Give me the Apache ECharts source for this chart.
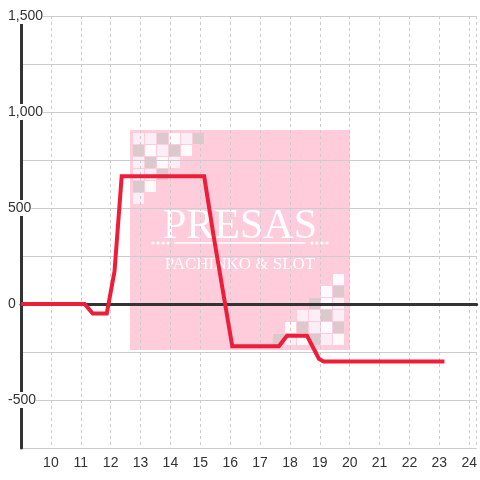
<!DOCTYPE html>
<html>
<head>
<meta charset="utf-8">
<script src="https://cdn.jsdelivr.net/npm/echarts@6/dist/echarts.min.js"></script>
<style>
  html, body { margin: 0; padding: 0; background: #fff; }
  #chart { width: 480px; height: 480px; }
</style>
</head>
<body>
<div id="chart"></div>
<script>
// hour of day -> running balance
const hours = [9, 11.13, 11.4, 11.87, 12.13, 12.37, 15.13, 15.45, 16.07, 17.63, 17.9, 18.57, 18.97, 19.13, 23.17]
const balance = [0, 0, -50, -50, 170, 665, 665, 350, -220, -220, -165, -165, -285, -300, -300]

const xMin = 9
const xMax = 24.25
const yMin = -750
const yMax = 1500

// watermark checker pattern (W white, L light, G grey)
const checkTopLeft = ['LLGWLG', 'GWLGW.', 'LGWL..', 'LLG...', 'GW....', 'L.....']
const checkBottomRight = ['.....W', '....WG', '...GWL', '..LLGL', '.WGLWG', 'GLWGLW']

const chartEl = document.getElementById('chart')
const chart = echarts.init(chartEl)

const squareColors = { W: 'rgba(255,255,255,0.9)', L: '#fbeef6', G: '#dcc9cd' }

function checker(pattern, x0, y0) {
  const out = []
  pattern.forEach((row, r) => {
    row.split('').forEach((c, k) => {
      if (c === '.') return
      out.push({
        type: 'rect', z: -10, silent: true,
        shape: { x: x0 + k * 12, y: y0 + r * 12, width: 11, height: 11 },
        style: { fill: squareColors[c] }
      })
    })
  })
  return out
}

function dots(xs, y) {
  return xs.map(x => ({
    type: 'circle', z: -10, silent: true,
    shape: { cx: x, cy: y, r: 1.6 },
    style: { fill: '#fff' }
  }))
}

const watermark = [
  { type: 'rect', z: -11, silent: true, shape: { x: 130, y: 130, width: 220, height: 220 }, style: { fill: '#ffccdb' } },
  ...checker(checkTopLeft, 133, 133),
  ...checker(checkBottomRight, 273, 274),
  {
    type: 'text', z: -10, silent: true,
    style: { text: 'PRESAS', x: 240, y: 227, align: 'center', verticalAlign: 'middle', font: '42px "Liberation Serif"', fill: 'rgba(255,255,255,0.95)' }
  },
  { type: 'line', z: -10, silent: true, shape: { x1: 174, y1: 243, x2: 306, y2: 243 }, style: { stroke: '#fff', lineWidth: 1.5 } },
  ...dots([153, 158, 163, 168, 312, 317, 322, 327], 243),
  {
    type: 'text', z: -10, silent: true,
    style: { text: 'PACHINKO & SLOT', x: 240, y: 265, align: 'center', verticalAlign: 'middle', font: '17px "Liberation Serif"', fill: 'rgba(255,255,255,0.95)' }
  }
]

const option = {
  backgroundColor: '#fff',
  animation: false,
  graphic: watermark,
  grid: { left: 21, right: 0, top: 16, bottom: 32, containLabel: false },
  xAxis: [
    {
      type: 'value',
      min: xMin,
      max: xMax,
      interval: 1,
      axisLine: { show: false, onZero: false },
      axisTick: { show: false },
      axisLabel: {
        margin: 8,
        color: '#333',
        fontSize: 14,
        fontFamily: 'Liberation Sans',
        formatter: v => (Number.isInteger(v) && v > xMin) ? String(v) : ''
      },
      splitLine: { show: true, lineStyle: { color: '#ccc', width: 1, type: [3, 3] } }
    },
    {
      // zero line
      type: 'value',
      min: xMin,
      max: xMax,
      axisLine: { show: true, onZero: true, lineStyle: { color: '#333', width: 3 } },
      axisTick: { show: false },
      axisLabel: { show: false },
      splitLine: { show: false }
    }
  ],
  yAxis: {
    type: 'value',
    min: yMin,
    max: yMax,
    interval: 250,
    axisLine: { show: true, onZero: false, lineStyle: { color: '#333', width: 3 } },
    axisTick: { show: false },
    axisLabel: {
      align: 'left',
      margin: 13,
      color: '#333',
      fontSize: 14,
      fontFamily: 'Liberation Sans',
      backgroundColor: '#fff',
      padding: [1, 0],
      formatter: v => (v % 500 === 0) ? v.toLocaleString('en-US') : ''
    },
    splitLine: { show: true, lineStyle: { color: '#ccc', width: 1 } }
  },
  series: [
    {
      type: 'line',
      data: hours.map((h, i) => [h, balance[i]]),
      symbol: 'none',
      smooth: false,
      lineStyle: { color: '#ee1d39', width: 4, join: 'miter' },
      itemStyle: { color: '#ee1d39' }
    }
  ]
}

chart.setOption(option)
</script>
</body>
</html>
